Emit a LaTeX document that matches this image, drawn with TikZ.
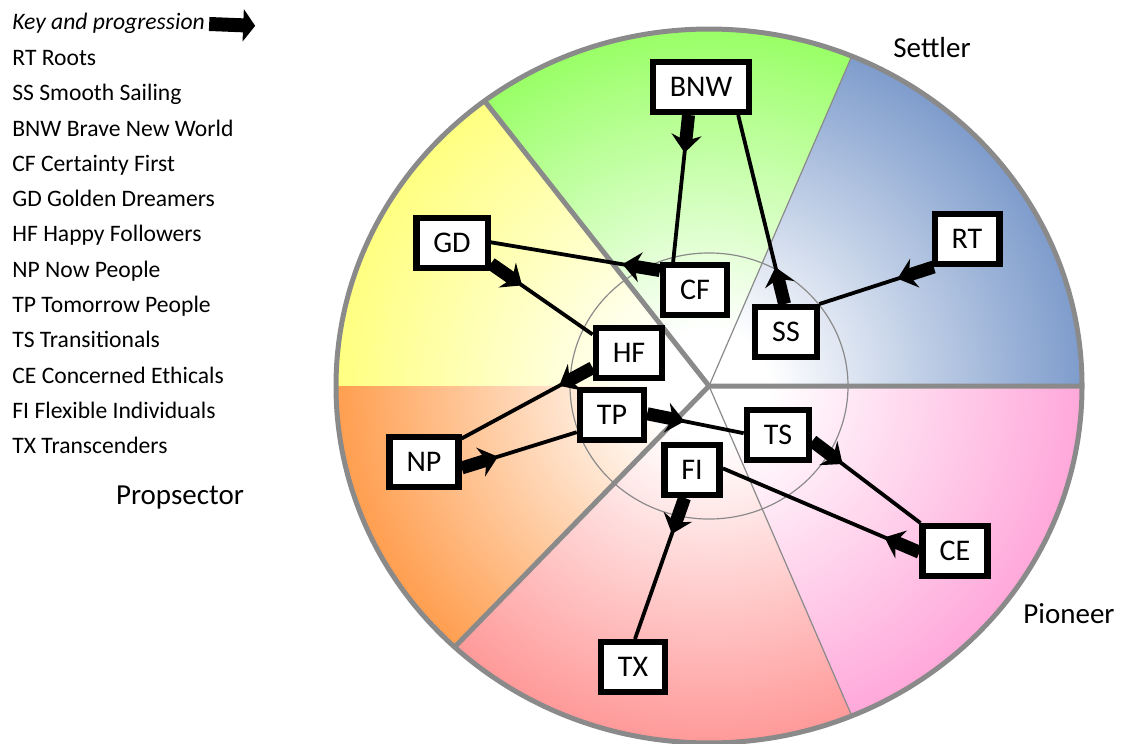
\documentclass[tikz,border=0pt]{standalone}
\usepackage{fontspec}
\setmainfont{Carlito}
\usepackage{tikz}
\usetikzlibrary{arrows.meta,calc,decorations.markings}

\definecolor{wblue}{HTML}{7E9CCC}
\definecolor{wgreen}{HTML}{99FF66}
\definecolor{wyellow}{HTML}{FFFF80}
\definecolor{worange}{HTML}{FF9E4F}
\definecolor{wred}{HTML}{FF9999}
\definecolor{wpink}{HTML}{FFA8DA}
\definecolor{wheelgray}{HTML}{8A8A8A}

% fade from white in the middle to the sector colour at the rim
\colorlet{wheelcol}{white}
\pgfdeclareradialshading[wheelcol]{wheelfade}{\pgfpointorigin}{color(0bp)=(white); color(4bp)=(white); color(25bp)=(wheelcol); color(50bp)=(wheelcol)}

\tikzset{
  segbox/.style={
    rectangle, draw=black, line width=3.2pt, fill=white,
    minimum height=24.8pt, inner xsep=8.5pt, inner ysep=0pt,
    font=\fontsize{15}{18}\selectfont
  },
  keytext/.style={anchor=base west, inner sep=0pt, font=\fontsize{11.8}{14}\selectfont},
  typelabel/.style={inner sep=0pt, font=\fontsize{14.5}{17}\selectfont},
  progline/.style={
    line width=1.9pt, draw=black,
    postaction={draw, line width=6.5pt, dash pattern=on 13pt off 2000pt},
    postaction={decorate, decoration={markings,
      mark=at position 19pt with {\arrow{Stealth[length=9pt,width=15pt,inset=3pt]}}}}
  },
  keyarrow/.style={line width=7pt, -{Triangle[length=6pt,width=16pt]}, shorten <=2pt},
  rimline/.style={draw=wheelgray, line width=2.5pt},
  splitline/.style={draw=wheelgray, line width=2.5pt},
  faintline/.style={draw=wheelgray, line width=0.6pt},
}

\begin{document}
\begin{tikzpicture}[x=0.5pt, y=0.5pt]
  \useasboundingbox (0,0) rectangle (1122,-743);

  % wheel
  \begin{scope}[shift={(709,-386)}, yscale=0.957]
    \foreach \a/\b/\c in {0/67.5/wblue, 67.5/127/wgreen, 127/180/wyellow,
                          180/227/worange, 227/292.5/wred, 292.5/360/wpink}{
      \begin{scope}
        \clip (0,0) -- (\a:373) arc (\a:\b:373) -- cycle;
        \colorlet{wheelcol}{\c}
        \shade[shading=wheelfade] (0,0) circle (373);
      \end{scope}
    }
    \draw[faintline] (0,0) circle (139);
    \draw[faintline] (0,0) -- (67.5:373) (0,0) -- (292.5:373);
    \draw[splitline] (0,0) -- (0:373) (0,0) -- (127:373) (0,0) -- (227:373);
    \draw[rimline] (0,0) circle (373);
  \end{scope}

  % key
  \node[keytext, font=\fontsize{11.8}{14}\selectfont\itshape] (key) at (12,-30) {Key and progression};
  \coordinate (keytip) at ([xshift=25pt,yshift=-1pt]key.east);
  \draw[keyarrow] (key.east) -- (keytip);
  \foreach \t [count=\i] in {RT Roots, SS Smooth Sailing, BNW Brave New World,
      CF Certainty First, GD Golden Dreamers, HF Happy Followers, NP Now People,
      TP Tomorrow People, TS Transitionals, CE Concerned Ethicals,
      FI Flexible Individuals, TX Transcenders}
    \node[keytext] (key\i) at (12,{-30.5-35.25*\i}) {\t};

  \node[typelabel] (settler)    at (932,-48)   {Settler};
  \node[typelabel] (pioneer)    at (1069,-614) {Pioneer};
  \node[typelabel] (prospector) at (180,-498)  {Propsector};

  % segments
  \node[segbox] (bnw) at (701,-87)  {BNW};
  \node[segbox] (gd)  at (452,-243) {GD};
  \node[segbox] (cf)  at (695,-290) {CF};
  \node[segbox] (ss)  at (786,-332) {SS};
  \node[segbox] (rt)  at (967,-239) {RT};
  \node[segbox] (hf)  at (629,-353) {HF};
  \node[segbox] (tp)  at (612,-415) {TP};
  \node[segbox] (np)  at (424,-462) {NP};
  \node[segbox] (ts)  at (778,-435) {TS};
  \node[segbox] (fi)  at (692,-470) {FI};
  \node[segbox] (ce)  at (955,-551) {CE};
  \node[segbox] (tx)  at (633,-667) {TX};

  % progression
  \draw[progline] (rt.220)  -- (ss.40);
  \draw[progline] (ss.93)   -- (bnw.323);
  \draw[progline] (bnw.246) -- (cf.128);
  \draw[progline] (cf.151)  -- (gd.1);
  \draw[progline] (gd.-28)  -- (hf.153);
  \draw[progline] (hf.202)  -- (np.32);
  \draw[progline] (np.-9)   -- (tp.206);
  \draw[progline] (tp.2)    -- (ts.177);
  \draw[progline] (ts.-10)  -- (ce.141);
  \draw[progline] (ce.182)  -- (fi.3);
  \draw[progline] (fi.255)  -- (tx.86);
\end{tikzpicture}
\end{document}
